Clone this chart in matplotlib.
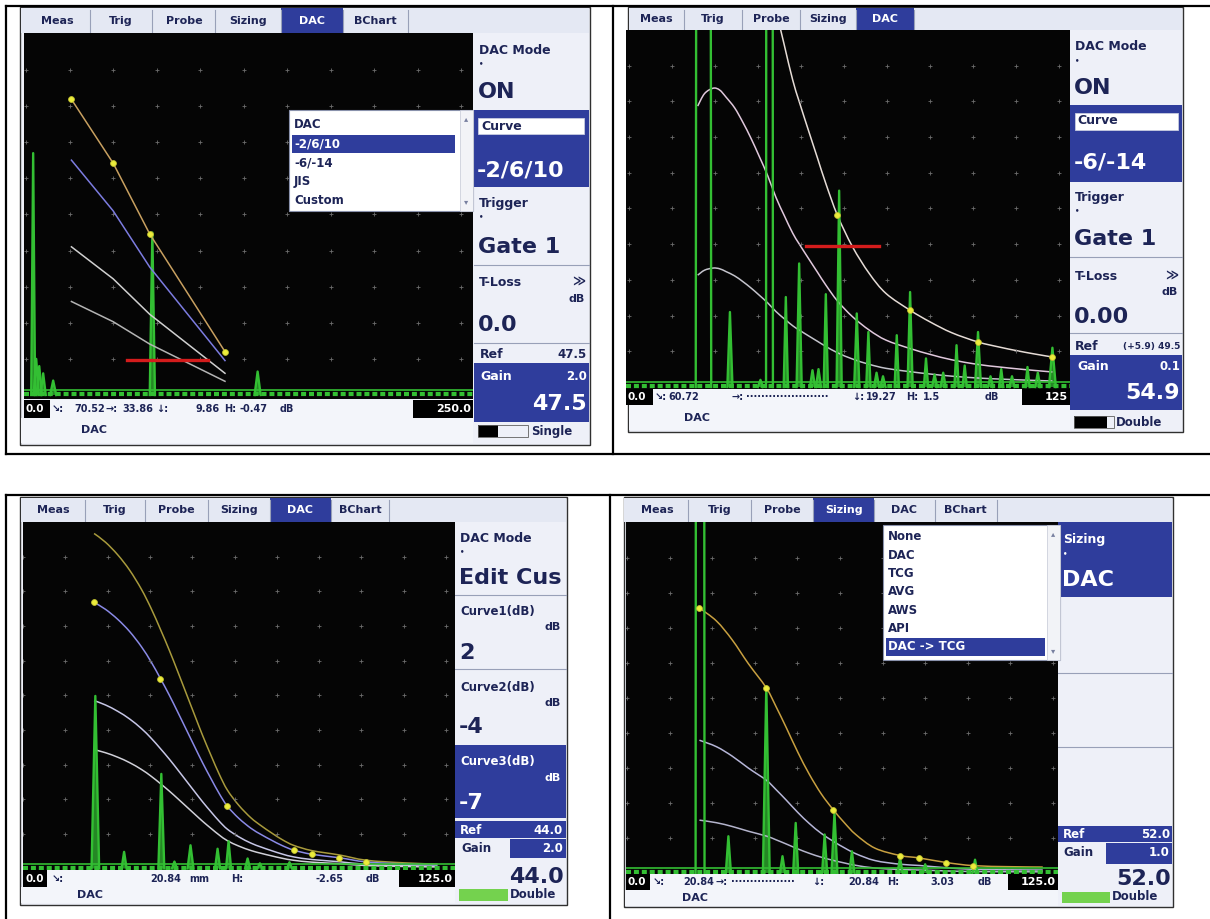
import numpy as np
import matplotlib
matplotlib.use('Agg')
import matplotlib.pyplot as plt
from matplotlib.patches import Rectangle, PathPatch
from matplotlib.path import Path

W, H = 1210, 919

BLUE = '#2f3d9c'
NAVY = '#1d2456'
PANEL = '#eef0f8'
TABBG = '#e4e8f3'
STATUSBG = '#f3f5fa'
SEP = '#98a0b8'
GREEN = '#33bf33'
GREENBAR = '#74d24e'

tab_labels = ['Meas', 'Trig', 'Probe', 'Sizing', 'DAC', 'BChart']

# screen 1 (top left) - DAC on, curve set -2/6/10
s1_dac_x = [10.4, 20.0, 28.4, 45.7]
s1_dac_y = [81.9, 64.2, 44.6, 12.0]
s1_curve_db = [0, -2, -6, -10]
s1_echo_x = [1.6, 2.3, 3.0, 3.9, 6.2, 29.0, 53.2]
s1_echo_amp = [67, 10, 8, 6, 4, 45, 6.5]
s1_echo_w = [0.45, 0.6, 0.6, 0.6, 0.7, 0.6, 0.7]
s1_gate = [23.2, 41.9, 9.7]
s1_menu = ['DAC', '-2/6/10', '-6/-14', 'JIS', 'Custom']
s1_readout = ['↘:', '70.52', '→:', '33.86', '↓:', '9.86', 'H:', '-0.47', 'dB']

# screen 2 (top right) - curve set -6/-14
s2_curve_x = [15.9, 17.5, 19.5, 21.0, 22.5, 24.5, 26.4, 28.3, 30.2, 32.2, 34.1, 36.0, 38.0,
              39.5, 41.9, 43.8, 45.7, 48.4, 51.9, 55.8, 59.7, 65.3, 70.0, 75.0, 81.1, 86.0,
              90.0, 94.0, 98.4]
s2_curve_y = [157, 164, 167, 166, 162, 156, 148, 139, 129, 118, 106, 96, 86,
              80, 71, 64, 57, 48.1, 39.3, 31.8, 26.2, 21.5, 18.2, 15.2, 12.6, 11.2,
              10.2, 9.3, 8.4]
s2_pts_x = [48.4, 65.3, 81.1, 98.4]
s2_pts_y = [48.1, 21.5, 12.6, 8.4]
s2_curve_db = [0, -6, -14]
s2_echo_x = [17.25, 32.6, 23.4, 30.5, 36.4, 39.5, 42.6, 44.0, 45.7, 48.8, 52.9, 55.6, 57.5,
             59.0, 62.2, 65.3, 69.0, 71.0, 73.0, 76.1, 78.0, 81.1, 84.0, 86.5, 89.0, 92.6,
             95.0, 98.4]
s2_echo_amp = [2000, 2000, 21, 2, 25.2, 34.6, 4.7, 5, 26, 55, 20.6, 15.4, 4,
               3, 14.5, 26.6, 8, 3.5, 4, 11.7, 6, 15.4, 3, 5, 3, 5.6,
               4, 11]
s2_echo_w = [1.8, 0.8, 0.6, 0.6, 0.5, 0.6, 0.6, 0.6, 0.5, 0.6, 0.6, 0.5, 0.6,
             0.6, 0.5, 0.6, 0.5, 0.6, 0.6, 0.5, 0.5, 0.7, 0.6, 0.5, 0.6, 0.5,
             0.6, 0.8]
s2_gate = [41.1, 58.1, 39.4]
s2_readout = ['↘:', '60.72', '→:', '·' * 22, '↓:', '19.27', 'H:', '1.5', 'dB']

# screen 3 (bottom left) - custom curves +2/-4/-7 dB
s3_curve_x = [16.8, 19.5, 22.4, 25.2, 28.0, 30.3, 32.5, 34.6, 36.6, 38.6, 40.6, 42.5, 44.5,
              46.4, 48.3, 51.0, 53.9, 56.3, 58.7, 61.3, 64.0, 68.3, 74.8, 81.1, 90.0, 98.0]
s3_curve_y = [76.8, 74.8, 71.9, 68.4, 64.0, 59.6, 54.8, 50.0, 45.1, 40.1, 35.1, 30.4, 25.8,
              21.6, 18.0, 14.5, 11.6, 9.8, 8.2, 6.6, 5.3, 4.1, 3.1, 1.9, 1.3, 1.0]
s3_pts_x = [16.8, 32.5, 48.3, 64.0, 68.3, 74.8, 81.1]
s3_pts_y = [76.8, 54.8, 18.0, 5.3, 4.1, 3.1, 1.9]
s3_curve_db = [2, 0, -4, -7]
s3_echo_x = [17.1, 23.9, 32.7, 35.8, 39.6, 46.0, 48.6, 53.1, 56.0, 63.0]
s3_echo_amp = [49.8, 4.8, 27.3, 2, 6.7, 5.7, 7.9, 2.9, 1.5, 1.8]
s3_echo_w = [0.9, 0.6, 0.7, 0.6, 0.7, 0.6, 0.6, 0.6, 0.6, 0.6]
s3_readout = ['↘:', '20.84', 'mm', 'H:', '-2.65', 'dB']

# screen 4 (bottom right) - sizing menu, curves -6/-14
s4_curve_x = [17.0, 21.0, 24.7, 28.5, 32.7, 35.0, 37.4, 40.1, 42.8, 45.6, 48.4, 51.0, 53.7,
              58.2, 64.1, 68.6, 74.9, 81.3, 90.0, 97.6]
s4_curve_y = [75.7, 72.0, 66.6, 59.8, 52.9, 47.5, 41.5, 34.5, 28.2, 22.6, 18.1, 14.4, 11.0,
              7.1, 5.0, 4.3, 3.0, 2.1, 1.8, 1.7]
s4_pts_x = [17.0, 32.7, 48.4, 64.1, 68.6, 74.9, 81.3]
s4_pts_y = [75.7, 52.9, 18.1, 5.0, 4.3, 3.0, 2.1]
s4_curve_db = [0, -6, -14]
s4_echo_x = [17.15, 23.8, 32.7, 36.5, 39.6, 46.4, 48.7, 52.8, 64.1, 70.0, 81.7]
s4_echo_amp = [2000, 10.5, 53.3, 4.8, 14.3, 11, 17.1, 6.2, 4.3, 2.5, 3.8]
s4_echo_w = [1.05, 0.6, 0.8, 0.6, 0.6, 0.6, 0.7, 0.6, 0.6, 0.6, 0.6]
s4_menu = ['None', 'DAC', 'TCG', 'AVG', 'AWS', 'API', 'DAC -> TCG']
s4_readout = ['↘:', '20.84', '→:', '·' * 17, '↓:', '20.84', 'H:', '3.03', 'dB']


def box(ax, x0, y0, x1, y1, fc, ec='none', lw=0):
    ax.add_patch(Rectangle((x0, y0), x1 - x0, y1 - y0, facecolor=fc,
                           edgecolor=ec, linewidth=lw))


def put(ax, x, y, s, size=9, color=NAVY, ha='left', weight='bold'):
    ax.text(x, y, s, fontsize=size, color=color, ha=ha, va='center',
            fontweight=weight, family=['DejaVu Sans'])


def big(ax, x, y, s, color=NAVY, ha='left'):
    put(ax, x, y, s, 16, color, ha)


def hline(ax, x0, x1, y, color=SEP, lw=0.8):
    ax.plot([x0, x1], [y, y], color=color, lw=lw)


def tab_bar(ax, edges, active, y0, y1, x_start, x_end):
    box(ax, x_start, y0, x_end, y1, TABBG)
    for i in range(len(edges) - 1):
        a, b = edges[i], edges[i + 1]
        if i == active:
            box(ax, a, y0, b, y1, BLUE)
        ax.plot([b, b], [y0 + 2, y1], color=SEP, lw=0.8)
        put(ax, (a + b) / 2, (y0 + y1) / 2, tab_labels[i], 8,
            'white' if i == active else NAVY, ha='center')


def status_bar(ax, x0, x1, y0, y1, lbox, rbox, words, xs, right, row_y1, sx0):
    box(ax, x0, y0, x1, y1, STATUSBG)
    box(ax, x0, y0, lbox, y1, 'black')
    box(ax, rbox, y0, x1, y1, 'black')
    put(ax, x0 + 2, (y0 + y1) / 2, '0.0', 7.5, 'white')
    put(ax, x1 - 2, (y0 + y1) / 2, right, 8, 'white', ha='right')
    for s, x in zip(words, xs):
        put(ax, x, (y0 + y1) / 2, s, 7)
    box(ax, sx0 + 1, y1, x1, row_y1, STATUSBG)


def menu(ax, x0, y0, x1, y1, items, sel, first_y, row_h, sel_x1):
    box(ax, x0, y0, x1, y1, 'white', ec='#8a92ac', lw=0.8)
    box(ax, x1 - 13, y0, x1, y1, '#f2f3f7', ec='#c4c8d6', lw=0.5)
    put(ax, x1 - 6.5, y0 + 9, '▴', 6, '#7880a0', ha='center', weight='normal')
    put(ax, x1 - 6.5, y1 - 9, '▾', 6, '#7880a0', ha='center', weight='normal')
    for i, it in enumerate(items):
        y = first_y + i * row_h
        if i == sel:
            box(ax, x0 + 3, y - 9, sel_x1, y + 9, BLUE)
        put(ax, x0 + 5, y, it, 8.5, 'white' if i == sel else NAVY)


def scope(fig, x0, y0, x1, y1, col0, ppu, top, base):
    ax = fig.add_axes([x0 / W, 1 - y1 / H, (x1 - x0) / W, (y1 - y0) / H], zorder=1)
    ppp = (base - top) / 100
    ax.set_xlim((x0 - col0) / ppu, (x1 - col0) / ppu)
    ax.set_ylim(-(y1 - base) / ppp, 100 + (top - y0) / ppp)
    ax.set_facecolor('#050505')
    ax.set_xticks([])
    ax.set_yticks([])
    for sp in ax.spines.values():
        sp.set_visible(False)
    gx, gy = np.meshgrid(np.arange(0, 101, 10), np.arange(10, 91, 10))
    ax.plot(gx.ravel(), gy.ravel(), '+', color='#6c6c6c', ms=2.6, mew=0.6)
    # baseline and ruler
    ax.axhline(1.4, color=GREEN, lw=1.2)
    ax.axhline(0.2, color=GREEN, lw=3.0, dashes=(1.2, 0.7))
    return ax


def echoes(ax, xs, amps, ws):
    for u, a, w in zip(xs, amps, ws):
        ax.plot([u - w, u, u + w], [0, a, 0], color=GREEN, lw=1.7)
        if a < 100:
            ax.fill([u - w, u, u + w], [0, a, 0], color=GREEN, alpha=0.7, lw=0)


def smooth(xs, ys):
    # curve through the read points (Catmull-Rom drawn as Bezier segments)
    p = np.column_stack([xs, ys])
    verts = [p[0]]
    codes = [Path.MOVETO]
    for i in range(len(p) - 1):
        p0 = p[i - 1] if i > 0 else p[i]
        p3 = p[i + 2] if i + 2 < len(p) else p[i + 1]
        verts += [p[i] + (p[i + 1] - p0) / 6, p[i + 1] - (p3 - p[i]) / 6, p[i + 1]]
        codes += [Path.CURVE4] * 3
    return Path(verts, codes)


def dac(ax, cx, cy, offsets, colors, px, py, curved=True):
    cy = np.asarray(cy, dtype=float)
    for db, c in zip(offsets, colors):
        yy = cy * 10 ** (db / 20)
        if curved:
            ax.add_patch(PathPatch(smooth(cx, yy), fill=False, edgecolor=c, lw=1.1))
        else:
            ax.plot(cx, yy, color=c, lw=1.1)
    ax.plot(px, py, 'o', ms=4.2, mfc='#ecec3c', mec='#c0c030', mew=0.6)


def main():
    fig = plt.figure(figsize=(W / 100, H / 100), dpi=100)
    fig.patch.set_facecolor('white')
    ov = fig.add_axes([0, 0, 1, 1], zorder=0)
    ov.set_xlim(0, W)
    ov.set_ylim(H, 0)
    ov.axis('off')
    top = fig.add_axes([0, 0, 1, 1], zorder=3)
    top.set_xlim(0, W)
    top.set_ylim(H, 0)
    top.axis('off')

    # table borders
    tl = 1.6
    ov.plot([6, W], [6, 6], color='black', lw=tl)
    ov.plot([6, W], [454, 454], color='black', lw=tl)
    ov.plot([6, 6], [6, 454], color='black', lw=tl)
    ov.plot([613, 613], [6, 454], color='black', lw=tl)
    ov.plot([6, W], [495, 495], color='black', lw=tl)
    ov.plot([6, 6], [495, H], color='black', lw=tl)
    ov.plot([610, 610], [495, H], color='black', lw=tl)

    # ---------------- screen 1 ----------------
    box(ov, 20, 7, 589.5, 445, PANEL, ec='#303030', lw=1)
    tab_bar(ov, [25, 89.5, 152.4, 215.3, 280.5, 343.4, 408], 4, 8, 33, 21, 589)
    status_bar(ov, 24, 472.6, 400, 418, 50, 413, s1_readout,
               [52, 74, 106, 122, 156, 196, 224, 240, 280], '250.0', 443, 20)
    put(ov, 81, 430, 'DAC', 8)
    px0, px1 = 474, 589
    box(ov, px0, 33, px1, 444, PANEL)
    put(ov, 479, 50, 'DAC Mode')
    put(ov, 479, 63, '•', 5)
    big(ov, 478, 92, 'ON')
    box(ov, px0, 110, px1, 187, BLUE)
    box(ov, 478, 118, 584, 134, 'white', ec='#c8cce0', lw=0.6)
    put(ov, 481, 126, 'Curve')
    big(ov, 477, 170, '-2/6/10', 'white')
    put(ov, 479, 203, 'Trigger')
    put(ov, 479, 216, '•', 5)
    big(ov, 478, 247, 'Gate 1')
    hline(ov, px0, px1, 265)
    put(ov, 479, 282, 'T-Loss')
    put(ov, 585, 282, '≫', 9, ha='right')
    put(ov, 585, 299, 'dB', 8, ha='right')
    big(ov, 478, 325, '0.0')
    hline(ov, px0, px1, 343)
    put(ov, 480, 355, 'Ref')
    put(ov, 587, 355, '47.5', 8.5, ha='right')
    box(ov, px0, 363, px1, 422, BLUE)
    put(ov, 480, 377, 'Gain', 9, 'white')
    put(ov, 587, 377, '2.0', 8.5, 'white', ha='right')
    big(ov, 587, 404, '47.5', 'white', ha='right')
    box(ov, 478, 425, 498, 437, 'black')
    box(ov, 478, 425, 528, 437, 'none', ec='#606060', lw=0.6)
    put(ov, 531, 431, 'Single', 8.5)

    ax1 = scope(fig, 24, 33, 472.6, 399, 26.2, 4.35, 34, 395)
    echoes(ax1, s1_echo_x, s1_echo_amp, s1_echo_w)
    dac(ax1, s1_dac_x, s1_dac_y, s1_curve_db,
        ['#c8a060', '#7c7ce0', '#d0d0d0', '#b4b4b4'], s1_dac_x, s1_dac_y, curved=False)
    ax1.plot(s1_gate[:2], [s1_gate[2]] * 2, color='#d41c1c', lw=2.4)
    menu(top, 289, 110, 472.6, 211, s1_menu, 1, 125, 18.8, 455)

    # ---------------- screen 2 ----------------
    box(ov, 628, 7, 1182.5, 432, PANEL, ec='#303030', lw=1)
    tab_bar(ov, [628, 684, 742, 800, 856, 914], 4, 8, 30, 629, 1182)
    status_bar(ov, 626, 1070, 389, 405, 653, 1022, s2_readout,
               [655, 668, 732, 746, 852, 866, 906, 923, 985], '125', 430, 628)
    put(ov, 684, 418, 'DAC', 8)
    px0, px1 = 1070, 1182
    box(ov, px0, 30, px1, 431, PANEL)
    put(ov, 1075, 47, 'DAC Mode')
    put(ov, 1075, 60, '•', 5)
    big(ov, 1074, 88, 'ON')
    box(ov, px0, 105, px1, 182, BLUE)
    box(ov, 1075, 113, 1178, 130, 'white', ec='#c8cce0', lw=0.6)
    put(ov, 1077, 121, 'Curve')
    big(ov, 1074, 163, '-6/-14', 'white')
    put(ov, 1075, 197, 'Trigger')
    put(ov, 1075, 210, '•', 5)
    big(ov, 1074, 239, 'Gate 1')
    hline(ov, px0, px1, 257)
    put(ov, 1075, 276, 'T-Loss')
    put(ov, 1178, 276, '≫', 9, ha='right')
    put(ov, 1178, 292, 'dB', 8, ha='right')
    big(ov, 1074, 317, '0.00')
    hline(ov, px0, px1, 333)
    put(ov, 1075, 346, 'Ref')
    put(ov, 1180, 346, '(+5.9) 49.5', 6.5, ha='right')
    box(ov, px0, 355, px1, 410, BLUE)
    put(ov, 1077, 367, 'Gain', 9, 'white')
    put(ov, 1180, 367, '0.1', 8.5, 'white', ha='right')
    big(ov, 1180, 393, '54.9', 'white', ha='right')
    box(ov, 1074, 416, 1107, 428, 'black')
    box(ov, 1074, 416, 1114, 428, 'none', ec='#606060', lw=0.6)
    put(ov, 1116, 422, 'Double', 8.5)

    ax2 = scope(fig, 626, 30, 1070, 389, 629.3, 4.30, 30, 387)
    echoes(ax2, s2_echo_x, s2_echo_amp, s2_echo_w)
    dac(ax2, s2_curve_x, s2_curve_y, s2_curve_db,
        ['#e6dcd6', '#e0c8dc', '#c4c4cc'], s2_pts_x, s2_pts_y)
    ax2.plot(s2_gate[:2], [s2_gate[2]] * 2, color='#d41c1c', lw=2.4)

    # ---------------- screen 3 ----------------
    box(ov, 20, 497, 567, 905, PANEL, ec='#303030', lw=1)
    tab_bar(ov, [22.4, 84.9, 144.7, 208.3, 270, 331, 389], 4, 498, 522, 21, 566)
    status_bar(ov, 23, 454.5, 870, 887, 47, 399, s3_readout,
               [52, 150, 189, 231, 316, 366], '125.0', 903, 20)
    put(ov, 77, 895, 'DAC', 8)
    px0, px1 = 455, 566
    box(ov, px0, 522, px1, 904, PANEL)
    put(ov, 460, 538, 'DAC Mode')
    put(ov, 460, 551, '•', 5)
    big(ov, 459, 578, 'Edit Cus')
    hline(ov, px0, px1, 595)
    put(ov, 460, 612, 'Curve1(dB)', 8.5)
    put(ov, 561, 627, 'dB', 8, ha='right')
    big(ov, 459, 653, '2')
    hline(ov, px0, px1, 669)
    put(ov, 460, 687, 'Curve2(dB)', 8.5)
    put(ov, 561, 703, 'dB', 8, ha='right')
    big(ov, 459, 727, '-4')
    box(ov, px0, 745, px1, 818, BLUE)
    put(ov, 460, 762, 'Curve3(dB)', 8.5, 'white')
    put(ov, 561, 778, 'dB', 8, 'white', ha='right')
    big(ov, 459, 803, '-7', 'white')
    box(ov, px0, 821, px1, 838, BLUE)
    put(ov, 460, 830, 'Ref', 8.5, 'white')
    put(ov, 563, 830, '44.0', 8.5, 'white', ha='right')
    box(ov, px0, 839, px1, 858, BLUE)
    box(ov, px0, 839, 510, 858, PANEL)
    put(ov, 461, 849, 'Gain', 8.5)
    put(ov, 563, 849, '2.0', 8.5, 'white', ha='right')
    big(ov, 564, 877, '44.0', ha='right')
    box(ov, 459, 889, 508, 901, GREENBAR)
    put(ov, 510, 895, 'Double', 8.5)

    ax3 = scope(fig, 23, 522, 454.5, 870, 23, 4.23, 522, 868.5)
    echoes(ax3, s3_echo_x, s3_echo_amp, s3_echo_w)
    dac(ax3, s3_curve_x, s3_curve_y, s3_curve_db,
        ['#a89a3c', '#8a8ae6', '#c6c6e6', '#d0d0d8'], s3_pts_x, s3_pts_y)

    # ---------------- screen 4 ----------------
    box(ov, 623.5, 497, 1173, 907, PANEL, ec='#303030', lw=1)
    tab_bar(ov, [627.4, 688, 750.8, 813.3, 874, 935, 996.6], 3, 498, 522, 624, 1172)
    status_bar(ov, 626, 1058, 874, 890, 650, 1008, s4_readout,
               [653, 683, 716, 731, 812, 848, 887, 930, 978], '125.0', 906, 623.5)
    put(ov, 682, 898, 'DAC', 8)
    px0, px1 = 1058, 1172
    box(ov, px0, 522, px1, 906, PANEL)
    box(ov, px0, 522, px1, 597, BLUE)
    put(ov, 1063, 540, 'Sizing', 9, 'white')
    put(ov, 1063, 553, '•', 5, 'white')
    big(ov, 1062, 580, 'DAC', 'white')
    hline(ov, px0, px1, 673)
    hline(ov, px0, px1, 747)
    box(ov, px0, 826, px1, 842, BLUE)
    put(ov, 1063, 834, 'Ref', 8.5, 'white')
    put(ov, 1170, 834, '52.0', 8.5, 'white', ha='right')
    box(ov, px0, 843, px1, 864, BLUE)
    box(ov, px0, 843, 1106, 864, PANEL)
    put(ov, 1063, 853, 'Gain', 8.5)
    put(ov, 1170, 853, '1.0', 8.5, 'white', ha='right')
    big(ov, 1171, 879, '52.0', ha='right')
    box(ov, 1062, 892, 1110, 903, GREENBAR)
    put(ov, 1112, 897, 'Double', 8.5)

    ax4 = scope(fig, 626, 522, 1058, 874, 627, 4.26, 523, 873)
    echoes(ax4, s4_echo_x, s4_echo_amp, s4_echo_w)
    dac(ax4, s4_curve_x, s4_curve_y, s4_curve_db,
        ['#c8a040', '#b6b6d8', '#b4b4cc'], s4_pts_x, s4_pts_y)
    menu(top, 882.8, 525, 1060, 660, s4_menu, 6, 537, 18.3, 1045)

    fig.savefig('out.png', dpi=100)


if __name__ == "__main__":
    main()
